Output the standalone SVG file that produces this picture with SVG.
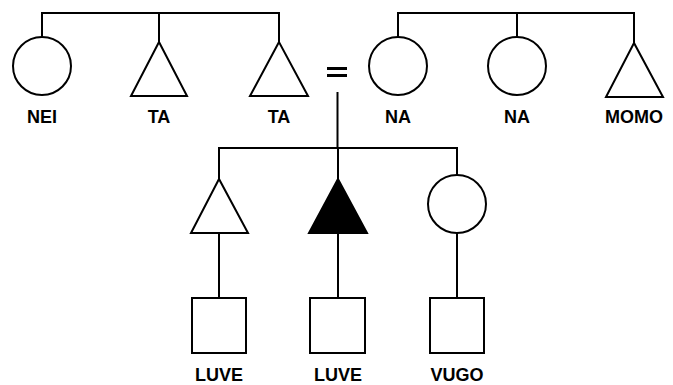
<svg xmlns="http://www.w3.org/2000/svg" width="673" height="385" viewBox="0 0 673 385">
  <style>
    .sym { fill: #fff; stroke: #000; stroke-width: 2; }
    .aff { fill: #000; stroke: #000; stroke-width: 2; }
    .ln { fill: none; stroke: #000; stroke-width: 2; }
    .eq { fill: none; stroke: #000; stroke-width: 3; }
    .lbl { font-family: "Liberation Sans", Arial, sans-serif; font-weight: bold; font-size: 18px; text-anchor: middle; fill: #000; }
  </style>
  <rect width="673" height="385" fill="#fff"/>

  <!-- kinship lines -->
  <g id="connectors">
    <!-- left sibling set -->
    <path class="ln" d="M42 37 V13 H279 V42 M159 13 V42"/>
    <!-- right sibling set -->
    <path class="ln" d="M398 37 V13 H634 V43 M517 13 V37"/>
    <!-- marriage sign and descent -->
    <path class="eq" d="M327 68.5 H347 M327 75.5 H347"/>
    <path class="ln" d="M337.5 92 V148"/>
    <!-- children sibling set -->
    <path class="ln" d="M219 179 V148 H457 V175 M338 148 V179"/>
    <!-- child to grandchild -->
    <path class="ln" d="M219 233 V298 M338 233 V298 M457 233 V298"/>
  </g>

  <g id="nei"><circle class="sym" cx="42" cy="66" r="29"/><text class="lbl" x="42" y="123">NEI</text></g>
  <g id="ta1"><polygon class="sym" points="159,42 131,96 187,96"/><text class="lbl" x="159" y="123">TA</text></g>
  <g id="ta2"><polygon class="sym" points="279,42 250,96 308,96"/><text class="lbl" x="279" y="123">TA</text></g>
  <g id="na1"><circle class="sym" cx="398" cy="66" r="29"/><text class="lbl" x="398" y="123">NA</text></g>
  <g id="na2"><circle class="sym" cx="517" cy="66" r="29"/><text class="lbl" x="517" y="123">NA</text></g>
  <g id="momo"><polygon class="sym" points="634,43 606,97 663,97"/><text class="lbl" x="634" y="123">MOMO</text></g>

  <g id="child1"><polygon class="sym" points="219,179 191,233 248,233"/></g>
  <g id="child2"><polygon class="aff" points="338,179 309,233 367,233"/></g>
  <g id="child3"><circle class="sym" cx="457" cy="204" r="29"/></g>

  <g id="luve1"><rect class="sym" x="192" y="298" width="54" height="55"/><text class="lbl" x="219" y="381">LUVE</text></g>
  <g id="luve2"><rect class="sym" x="310" y="298" width="55" height="55"/><text class="lbl" x="338" y="381">LUVE</text></g>
  <g id="vugo"><rect class="sym" x="430" y="298" width="54" height="55"/><text class="lbl" x="457" y="381">VUGO</text></g>
</svg>
